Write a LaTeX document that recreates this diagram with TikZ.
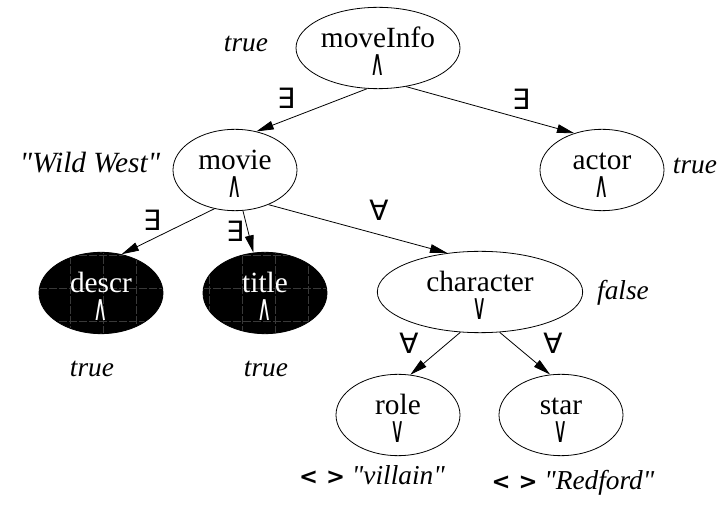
\documentclass[tikz,border=0pt]{standalone}
\usepackage{graphicx}
\usepackage{fontspec}
\setmainfont{Liberation Serif}[Ligatures=TeXOff]
\newfontfamily\symfont{DejaVu Sans}
\usepackage{tikz}
\usetikzlibrary{arrows.meta}
\usetikzlibrary{shapes.geometric}
\newcommand{\op}[1]{\scalebox{0.55}[1]{\symfont\fontsize{27}{20}\selectfont #1}}
\newcommand{\up}{\rule{0pt}{21pt}}
\newcommand{\notequal}{{\symfont\bfseries\fontsize{17}{17}\selectfont < >}}
\tikzset{tree node/.style={ellipse,draw,line width=0.6pt,inner sep=0pt,minimum width=93pt,minimum height=61pt,align=center,font=\fontsize{22}{21}\selectfont},
  dark node/.style={tree node,fill=black,text=white,
    path picture={\draw[gray!45!black,dash pattern=on 6pt off 1.5pt,line width=0.4pt] (path picture bounding box.south west) grid[step=24.75pt] (path picture bounding box.north east);}},
  quant/.style={font=\symfont\fontsize{21}{21}\selectfont,inner sep=0pt},
  value/.style={font=\itshape\fontsize{20.5}{20}\selectfont,inner sep=0pt,anchor=base},
}

\begin{document}
\begin{tikzpicture}[x=0.75pt, y=-0.75pt, >={Triangle[length=13pt,width=6.5pt]}, line width=0.6pt]
    \useasboundingbox (0,0) rectangle (719,506);
    % tree
    \node[tree node, minimum width=123pt] (moveInfo) at (378,48) {\up moveInfo\\\op{∧}};
    \node[tree node] (movie) at (235,170) {\up movie\\\op{∧}};
    \node[tree node] (actor) at (602,170) {\up actor\\\op{∧}};
    \node[dark node] (descr) at (101,293) {\up descr\\\op{∧}};
    \node[dark node] (title) at (265,293) {\up title\\\op{∧}};
    \node[tree node, minimum width=154pt] (character) at (480,292) {\up character\\\op{∨}};
    \node[tree node] (role) at (398,415) {\up role\\\op{∨}};
    \node[tree node] (star) at (561,415) {\up star\\\op{∨}};

    \path[draw]
    (moveInfo.255) edge[->] (movie.61)
    (moveInfo.306) edge[->] (actor.127)
    (movie.242) edge[->] (descr.62)
    (movie.281) edge[->] (title.106)
    (movie.314) edge[->] (character.130)
    (character.244) edge[->] (role.73)
    (character.296) edge[->] (star.105);

    % quantifiers
    \node[quant] (q1) at (286,98) {∃};
    \node[quant] (q2) at (521,99) {∃};
    \node[quant] (q3) at (152,220) {∃};
    \node[quant] (q4) at (235,231) {∃};
    \node[quant] (q5) at (379,210) {∀};
    \node[quant] (q6) at (409,343) {∀};
    \node[quant] (q7) at (553,343) {∀};

    % values
    \node[value] (v1) at (246,52) {true};
    \node[value, font=\itshape\fontsize{22}{20}\selectfont] (v2) at (90,173) {"Wild West"};
    \node[value] (v3) at (695,174) {true};
    \node[value] (v4) at (623,300) {false};
    \node[value] (v5) at (92,377) {true};
    \node[value] (v6) at (266,377) {true};
    \node[value] (v7) at (372,485) {\notequal\ "villain"};
    \node[value] (v8) at (573,490) {\notequal\ "Redford"};
\end{tikzpicture}
\end{document}
